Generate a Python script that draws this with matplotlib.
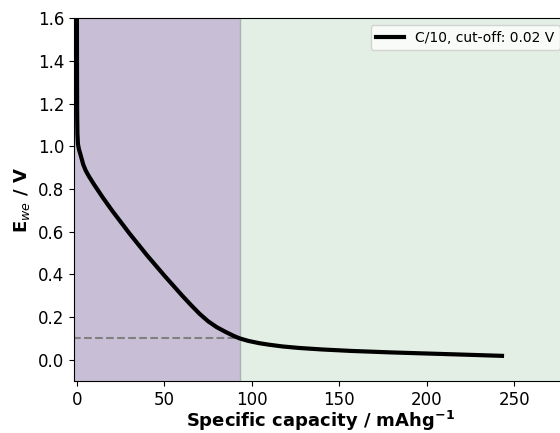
import matplotlib.pyplot as plt

# discharge curve
capacity = [0, 0.05, 0.15, 0.3, 0.6, 1.2, 2.1, 3.6, 5, 6.8, 10, 15, 20, 30, 40,
            50, 60, 65, 70, 75, 80, 85, 90, 93, 98, 104.5, 110, 117.6, 127,
            140, 157, 180, 200, 220, 243]
voltage = [1.65, 1.4, 1.15, 1.06, 1.01, 0.985, 0.96, 0.915, 0.887, 0.86, 0.8185,
           0.7575, 0.70, 0.592, 0.49, 0.394, 0.302, 0.258, 0.216, 0.18, 0.152,
           0.13, 0.11, 0.10, 0.088, 0.077, 0.07, 0.062, 0.055, 0.048, 0.041,
           0.034, 0.029, 0.024, 0.018]
split_cap = 93
plateau_v = 0.1

fig = plt.figure(figsize=(5.6, 4.33), dpi=100)
ax = fig.add_axes([0.132, 0.12, 0.88, 0.838])

ax.axvspan(-2, split_cap, color='#c8bed5', lw=0)
ax.axvspan(split_cap, 290, color='#e3efe4', lw=0)
ax.axvline(split_cap, color='#a9b3b3', lw=1)
ax.plot([-2, split_cap], [plateau_v, plateau_v], ls='--', color='gray', lw=1.5)

ax.plot(capacity, voltage, color='black', lw=3, solid_joinstyle='round',
        label='C/10, cut-off: 0.02 V')

ax.set_xlim(-1.7, 280)
ax.set_ylim(-0.1, 1.6)
ax.set_xticks([0, 50, 100, 150, 200, 250])
ax.set_yticks([0.0, 0.2, 0.4, 0.6, 0.8, 1.0, 1.2, 1.4, 1.6])
ax.tick_params(labelsize=12)
ax.set_xlabel('Specific capacity / mAhg$^{\\mathbf{-1}}$', fontsize=13,
              fontweight='bold', labelpad=0)
ax.set_ylabel('E$_{we}$ / V', fontsize=13, fontweight='bold')
ax.legend(loc='upper right', fontsize=10)

fig.savefig('out.png', dpi=100)
